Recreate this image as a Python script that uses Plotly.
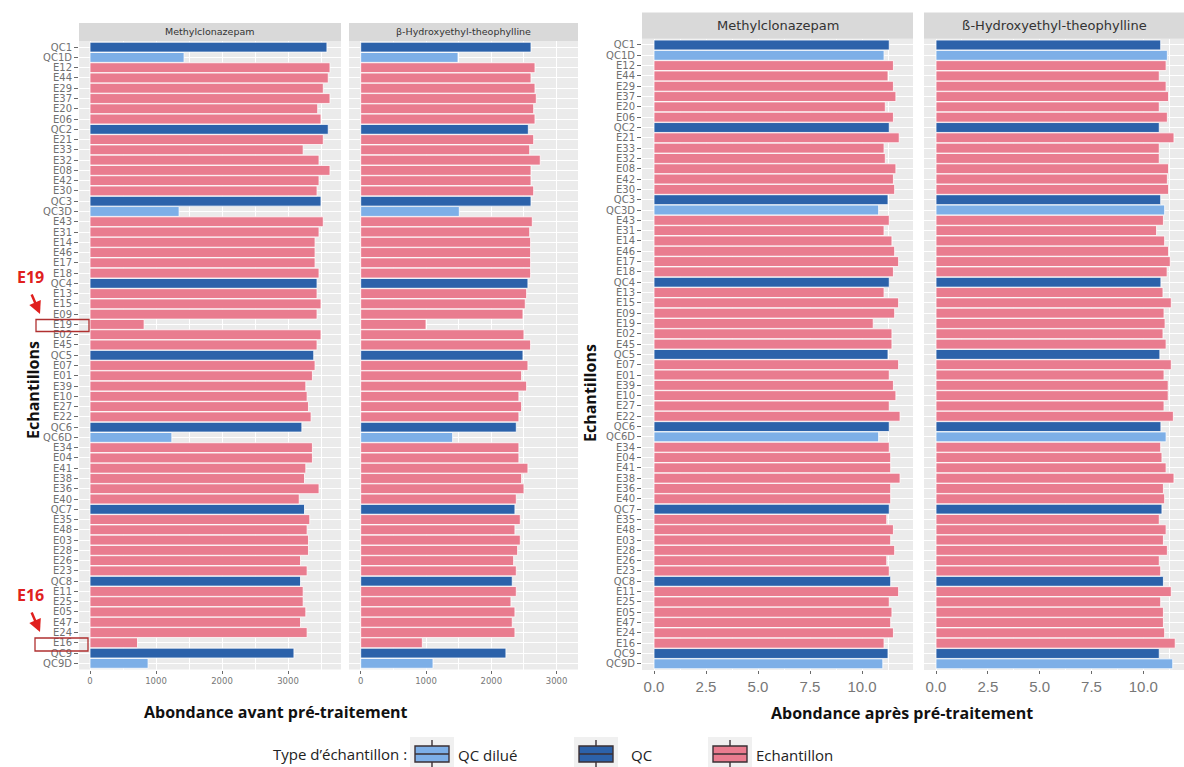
import plotly.graph_objects as go

W, H = 1184, 767

# Sample order along the y axis (top to bottom)
samples = ["QC1", "QC1D", "E12", "E44", "E29", "E37", "E20", "E06", "QC2", "E21", "E33", "E32", "E08", "E42", "E30",
           "QC3", "QC3D", "E43", "E31", "E14", "E46", "E17", "E18", "QC4", "E13", "E15", "E09", "E19", "E02", "E45",
           "QC5", "E07", "E01", "E39", "E10", "E27", "E22", "QC6", "QC6D", "E34", "E04", "E41", "E38", "E36", "E40",
           "QC7", "E35", "E48", "E03", "E28", "E26", "E23", "QC8", "E11", "E25", "E05", "E47", "E24", "E16", "QC9", "QC9D"]

# Abundance before pre-processing
mcz_avant = [3590, 1425, 3636, 3610, 3535, 3636, 3450, 3500, 3610, 3535, 3230, 3470, 3636, 3470, 3440,
             3500, 1350, 3535, 3470, 3410, 3410, 3410, 3470, 3440, 3440, 3500, 3440, 820, 3500, 3440,
             3390, 3410, 3370, 3270, 3290, 3310, 3350, 3210, 1240, 3370, 3370, 3270, 3250, 3470, 3170,
             3250, 3330, 3290, 3310, 3310, 3190, 3290, 3190, 3230, 3230, 3270, 3190, 3290, 720, 3090, 880]
hep_avant = [2608, 1490, 2669, 2608, 2669, 2689, 2649, 2669, 2567, 2649, 2588, 2750, 2608, 2608, 2649,
             2608, 1510, 2628, 2588, 2602, 2602, 2602, 2602, 2561, 2541, 2520, 2485, 1000, 2500, 2602,
             2485, 2561, 2464, 2541, 2423, 2464, 2423, 2383, 1408, 2423, 2423, 2561, 2464, 2500, 2383,
             2362, 2444, 2362, 2444, 2403, 2342, 2383, 2321, 2383, 2301, 2362, 2321, 2362, 944, 2224, 1107]

# Abundance after pre-processing
mcz_apres = [11.31, 11.06, 11.51, 11.25, 11.51, 11.63, 11.12, 11.51, 11.31, 11.79, 11.06, 11.12, 11.63, 11.51, 11.57,
             11.25, 10.80, 11.31, 11.06, 11.44, 11.57, 11.76, 11.51, 11.31, 11.06, 11.76, 11.57, 10.54, 11.44, 11.44,
             11.25, 11.76, 11.31, 11.51, 11.63, 11.31, 11.83, 11.31, 10.80, 11.31, 11.38, 11.38, 11.83, 11.38, 11.38,
             11.31, 11.19, 11.51, 11.38, 11.57, 11.19, 11.31, 11.38, 11.76, 11.31, 11.44, 11.38, 11.51, 11.06, 11.25, 11.00]
hep_apres = [10.84, 11.16, 11.10, 10.77, 11.10, 11.22, 10.77, 11.16, 10.77, 11.48, 10.77, 10.77, 11.22, 11.16, 11.22,
             10.84, 11.03, 10.97, 10.64, 11.03, 11.22, 11.30, 11.15, 10.85, 10.95, 11.35, 11.00, 11.05, 10.95, 11.10,
             10.80, 11.35, 11.00, 11.20, 11.20, 11.00, 11.45, 10.85, 11.10, 10.84, 10.90, 11.10, 11.48, 10.97, 11.03,
             10.90, 10.77, 11.10, 10.97, 11.16, 10.77, 10.84, 10.97, 11.35, 10.84, 10.97, 10.97, 11.03, 11.54, 10.77, 11.42]

type_labels = ["QC dilué", "QC", "Echantillon"]
type_colors = {"QC dilué": "#7DAFE7", "QC": "#2C62AA", "Echantillon": "#E97C8F"}


def sample_type(name):
    if name.startswith("QC") and name.endswith("D"):
        return "QC dilué"
    if name.startswith("QC"):
        return "QC"
    return "Echantillon"


stypes = [sample_type(s) for s in samples]


def px(x):
    return x / W


def py(y):
    return 1 - y / H


# panel geometry (pixels): left, right, zero position, px per unit, top, bottom, strip top
panels = [
    dict(vals=mcz_avant, x0=79, x1=341, zero=90, ppu=0.066, top=41, bottom=669.5, strip=23,
         title="Methylclonazepam", sfont=9.5, dtick=1000, minor=[500, 1500, 2500, 3500], fmt="d",
         xfont=8.5, yfont=10, ylab=True),
    dict(vals=hep_avant, x0=349, x1=578, zero=360.7, ppu=0.0653, top=41, bottom=669.5, strip=23,
         title="β-Hydroxyethyl-theophylline", sfont=9.5, dtick=1000, minor=[500, 1500, 2500, 3500],
         fmt="d", xfont=8.5, yfont=10, ylab=False),
    dict(vals=mcz_apres, x0=642, x1=913, zero=654, ppu=20.8, top=38.8, bottom=670, strip=12.5,
         title="Methylclonazepam", sfont=13, dtick=2.5, minor=[1.25, 3.75, 6.25, 8.75, 11.25],
         fmt=".1f", xfont=15, yfont=10, ylab=True),
    dict(vals=hep_apres, x0=924, x1=1184, zero=936, ppu=20.73, top=38.8, bottom=670, strip=12.5,
         title="ß-Hydroxyethyl-theophylline", sfont=13, dtick=2.5, minor=[1.25, 3.75, 6.25, 8.75, 11.25],
         fmt=".1f", xfont=15, yfont=10, ylab=False),
]

fig = go.Figure()
layout = dict(
    width=W, height=H, autosize=False,
    margin=dict(l=0, r=0, t=0, b=0),
    paper_bgcolor="white", plot_bgcolor="#EBEBEB",
    barmode="overlay", bargap=0.04,
    showlegend=False,
)
shapes, annotations = [], []
n = len(samples)

for k, p in enumerate(panels, start=1):
    sx = "" if k == 1 else str(k)
    xa, ya = "x" + sx, "y" + sx
    for t in type_labels:
        xs = [v for v, s in zip(p["vals"], stypes) if s == t]
        ys = [nm for nm, s in zip(samples, stypes) if s == t]
        fig.add_trace(go.Bar(
            x=xs, y=ys, orientation="h", xaxis=xa, yaxis=ya, name=t,
            marker=dict(color=type_colors[t], line=dict(color="white", width=0.8)),
            showlegend=False,
        ))
    layout["xaxis" + sx] = dict(
        domain=[px(p["x0"]), px(p["x1"])],
        range=[(p["x0"] - p["zero"]) / p["ppu"], (p["x1"] - p["zero"]) / p["ppu"]],
        anchor=ya, tick0=0, dtick=p["dtick"], tickformat=p["fmt"],
        showgrid=True, gridcolor="white", gridwidth=1.2, zeroline=False, showline=False,
        ticks="outside", ticklen=3, tickcolor="#6a6a6a",
        tickfont=dict(family="DejaVu Sans" if k <= 2 else "Liberation Sans", size=p["xfont"], color="#777777"),
        minor=dict(tickvals=p["minor"], showgrid=True, gridcolor="white", gridwidth=0.6),
    )
    layout["yaxis" + sx] = dict(
        domain=[py(p["bottom"]), py(p["top"])],
        type="category", categoryorder="array", categoryarray=samples,
        tickmode="array", tickvals=samples, ticktext=samples,
        range=[n - 1 + 0.6, -0.6], anchor=xa,
        showgrid=True, gridcolor="white", gridwidth=1.2, zeroline=False, showline=False,
        showticklabels=p["ylab"], ticks="outside" if p["ylab"] else "", ticklen=4, tickcolor="#6a6a6a",
        tickfont=dict(family="DejaVu Sans", size=p["yfont"], color="#707070"),
    )
    # facet strip
    shapes.append(dict(type="rect", xref="paper", yref="paper",
                       x0=px(p["x0"]), x1=px(p["x1"]), y0=py(p["top"]), y1=py(p["strip"]),
                       fillcolor="#D9D9D9", line=dict(width=0), layer="below"))
    annotations.append(dict(xref="paper", yref="paper", x=px((p["x0"] + p["x1"]) / 2),
                            y=py((p["top"] + p["strip"]) / 2), text=p["title"], showarrow=False,
                            xanchor="center", yanchor="middle",
                            font=dict(family="DejaVu Sans", size=p["sfont"], color="#333333")))

title_font = dict(family="Open Sans", size=16, color="#111111")
annotations += [
    dict(xref="paper", yref="paper", x=px(276), y=py(712), text="<b>Abondance avant pré-traitement</b>",
         showarrow=False, xanchor="center", yanchor="middle", font=title_font),
    dict(xref="paper", yref="paper", x=px(902), y=py(713), text="<b>Abondance après pré-traitement</b>",
         showarrow=False, xanchor="center", yanchor="middle", font=title_font),
    dict(xref="paper", yref="paper", x=px(33), y=py(390), text="<b>Echantillons</b>", textangle=-90,
         showarrow=False, xanchor="center", yanchor="middle", font=title_font),
    dict(xref="paper", yref="paper", x=px(590), y=py(393), text="<b>Echantillons</b>", textangle=-90,
         showarrow=False, xanchor="center", yanchor="middle", font=title_font),
]

# highlighted outlier samples
red = "#E0201E"
for lab, ty, box in [("E19", 277, (36, 319.5, 89, 331.5)), ("E16", 595, (35, 638, 88, 651))]:
    annotations.append(dict(xref="paper", yref="paper", x=px(30), y=py(ty), text="<b>%s</b>" % lab,
                            showarrow=False, xanchor="center", yanchor="middle",
                            font=dict(family="Open Sans", size=16, color=red)))
    annotations.append(dict(xref="paper", yref="paper", x=px(40), y=py(ty + 37), text="",
                            showarrow=True, ax=-9, ay=-21, arrowhead=2, arrowsize=1,
                            arrowwidth=2.5, arrowcolor=red))
    shapes.append(dict(type="rect", xref="paper", yref="paper",
                       x0=px(box[0]), x1=px(box[2]), y0=py(box[3]), y1=py(box[1]),
                       line=dict(color="#B03030", width=1.3), fillcolor="rgba(0,0,0,0)"))

# legend drawn with boxplot-style keys
leg_font = dict(family="Open Sans", size=15, color="#222222")
annotations.append(dict(xref="paper", yref="paper", x=px(409), y=py(754), text="Type d’échantillon :",
                        showarrow=False, xanchor="right", yanchor="middle", font=leg_font))
for t, cx, tx in [("QC dilué", 432, 456), ("QC", 596, 629), ("Echantillon", 730, 754)]:
    shapes.append(dict(type="rect", xref="paper", yref="paper", x0=px(cx - 22), x1=px(cx + 22),
                       y0=py(767), y1=py(737), fillcolor="#F0F0F0", line=dict(width=0)))
    shapes.append(dict(type="rect", xref="paper", yref="paper", x0=px(cx - 17), x1=px(cx + 17),
                       y0=py(762), y1=py(746), fillcolor=type_colors[t], line=dict(color="#3a3035", width=1.4)))
    shapes.append(dict(type="line", xref="paper", yref="paper", x0=px(cx - 17), x1=px(cx + 17),
                       y0=py(754), y1=py(754), line=dict(color="#3a3035", width=1.4)))
    shapes.append(dict(type="line", xref="paper", yref="paper", x0=px(cx), x1=px(cx),
                       y0=py(746), y1=py(740), line=dict(color="#3a3035", width=1.4)))
    shapes.append(dict(type="line", xref="paper", yref="paper", x0=px(cx), x1=px(cx),
                       y0=py(767), y1=py(762), line=dict(color="#3a3035", width=1.4)))
    annotations.append(dict(xref="paper", yref="paper", x=px(tx), y=py(755), text=t,
                            showarrow=False, xanchor="left", yanchor="middle", font=leg_font))

layout["shapes"] = shapes
layout["annotations"] = annotations
fig.update_layout(**layout)
fig.write_html("out.html")
